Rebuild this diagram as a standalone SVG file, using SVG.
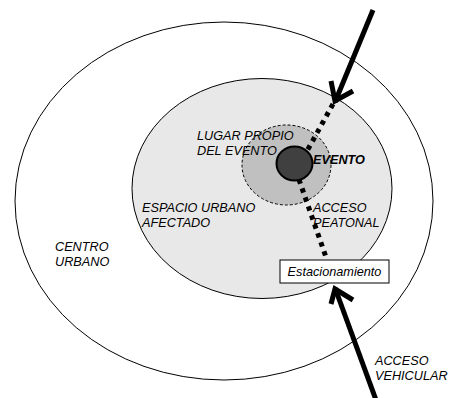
<svg xmlns="http://www.w3.org/2000/svg" width="449" height="398" viewBox="0 0 449 398">
<style>
text{font-family:"Liberation Sans",Arial,sans-serif;font-size:12.7px;font-style:italic;fill:#000}
.b{font-weight:bold}
.arrow{fill:none;stroke:#000;stroke-width:5;stroke-linecap:butt;stroke-linejoin:miter}
.dot{fill:none;stroke:#000;stroke-width:5;stroke-dasharray:4.5 5}
</style>
<rect width="449" height="398" fill="#fff"/>
<g id="centro-urbano">
<ellipse cx="224" cy="201" rx="209" ry="179" fill="#fff" stroke="#000" stroke-width="1"/>
<text x="55" y="251">CENTRO</text>
<text x="55" y="266">URBANO</text>
</g>
<g id="espacio-urbano">
<ellipse cx="262" cy="188.5" rx="130" ry="110" fill="#e8e8e8" stroke="#000" stroke-width="1"/>
<text x="142" y="212">ESPACIO URBANO</text>
<text x="142" y="227">AFECTADO</text>
</g>
<g id="lugar-propio">
<ellipse cx="286.5" cy="165" rx="44.5" ry="40" fill="#c0c0c0" stroke="#000" stroke-width="1" stroke-dasharray="3 2"/>
<text x="197" y="140">LUGAR PROPIO</text>
<text x="197" y="155">DEL EVENTO</text>
</g>
<g id="connectors">
<polyline class="dot" points="333,104 296,171 327,260"/>
<line class="arrow" x1="373" y1="10" x2="335" y2="102"/>
<polyline class="arrow" points="331,81 335,101 353,91"/>
<line class="arrow" x1="376" y1="400" x2="335" y2="288"/>
<polyline class="arrow" points="331,304 335,289 353,300"/>
</g>
<g id="evento">
<ellipse cx="294.5" cy="163.5" rx="18" ry="17" fill="#404040" stroke="#000" stroke-width="2"/>
<text class="b" x="313" y="164">EVENTO</text>
</g>
<g id="acceso-peatonal">
<text x="313" y="212">ACCESO</text>
<text x="313" y="227">PEATONAL</text>
</g>
<g id="estacionamiento">
<rect x="280" y="260" width="109" height="23" fill="#fff" stroke="#000" stroke-width="1"/>
<text x="334.5" y="276" text-anchor="middle">Estacionamiento</text>
</g>
<g id="acceso-vehicular">
<text x="375" y="365">ACCESO</text>
<text x="375" y="380">VEHICULAR</text>
</g>
</svg>
